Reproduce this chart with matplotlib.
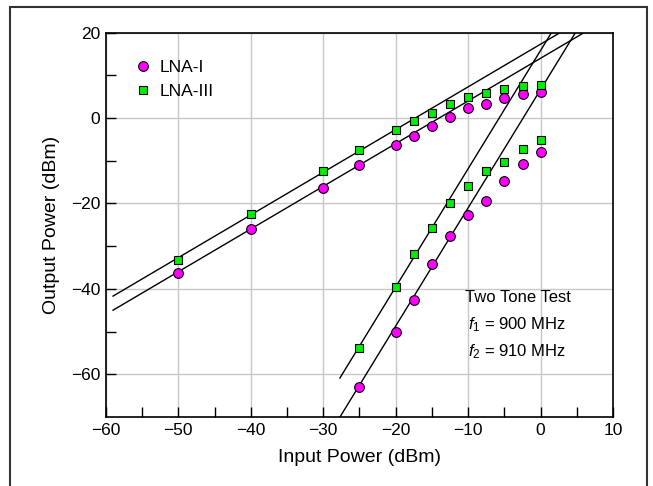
import numpy as np
import matplotlib
matplotlib.use("Agg")
from matplotlib import pyplot as plt
from matplotlib.patches import Rectangle

plt.rcParams['font.family'] = ['Liberation Sans', 'DejaVu Sans']
plt.rcParams['mathtext.fontset'] = 'custom'
plt.rcParams['mathtext.rm'] = 'Liberation Sans'
plt.rcParams['mathtext.it'] = 'Liberation Sans:italic'

# input power (dBm)
pin_fund = [-50, -40, -30, -25, -20, -17.5, -15, -12.5, -10, -7.5, -5, -2.5, 0]
pin_im3 = [-25, -20, -17.5, -15, -12.5, -10, -7.5, -5, -2.5, 0]

# fundamental output
lna1_fund = [-36.2, -26.1, -16.3, -11.1, -6.4, -4.3, -1.9, 0.3, 2.3, 3.3, 4.7, 5.6, 6.2]
lna3_fund = [-33.3, -22.4, -12.5, -7.6, -2.9, -0.8, 1.2, 3.3, 5.0, 5.8, 6.8, 7.5, 7.8]

# third order intermod output
lna1_im3 = [-62.9, -50.2, -42.5, -34.3, -27.6, -22.7, -19.5, -14.8, -10.7, -8.0]
lna3_im3 = [-53.9, -39.5, -31.8, -25.8, -20.0, -15.9, -12.5, -10.3, -7.2, -5.1]

# fitted lines: slope, intercept, start x
fit_slope = [1.0, 1.0, 2.77, 2.77]
fit_icept = [14.0, 17.3, 6.7, 15.85]
fit_start = [-59.0, -59.0, -27.7, -27.7]

fig = plt.figure(figsize=(6.53, 4.86), dpi=100)
ax = fig.add_axes([0.162, 0.142, 0.777, 0.791])

for m, c, x0 in zip(fit_slope, fit_icept, fit_start):
    xs = np.array([x0, (21 - c) / m])
    ax.plot(xs, m * xs + c, color='black', lw=1.0, zorder=3)

ax.plot(pin_fund, lna1_fund, 'o', ms=7, mfc='#ff00ff', mec='black', mew=0.8, zorder=4, label='LNA-I')
ax.plot(pin_fund, lna3_fund, 's', ms=6, mfc='#00ee00', mec='black', mew=0.8, zorder=4, label='LNA-III')
ax.plot(pin_im3, lna1_im3, 'o', ms=7, mfc='#ff00ff', mec='black', mew=0.8, zorder=4)
ax.plot(pin_im3, lna3_im3, 's', ms=6, mfc='#00ee00', mec='black', mew=0.8, zorder=4)

ax.set_xlim(-60, 10)
ax.set_ylim(-70, 20)
ax.set_xticks(range(-60, 11, 10))
ax.set_xticks(range(-55, 10, 10), minor=True)
ax.set_yticks(range(-60, 21, 20))
ax.set_yticks(range(-50, 20, 20), minor=True)
ax.grid(True, which='major', color='#c8c8c8', lw=1.0)
ax.set_axisbelow(True)
ax.tick_params(which='both', direction='in', length=7, width=1, labelsize=12.5, pad=4,
               top=False, right=False)
for s in ax.spines.values():
    s.set_linewidth(1.2)

ax.set_xlabel('Input Power (dBm)', fontsize=14, labelpad=8)
ax.set_ylabel('Output Power (dBm)', fontsize=14, labelpad=8)

ax.legend(loc='upper left', frameon=False, fontsize=12.5, handletextpad=0.35,
          borderaxespad=1.15, labelspacing=0.55, handlelength=1.2)

ax.text(-3.2, -42, 'Two Tone Test', ha='center', va='center', fontsize=12)
ax.text(-3.2, -48.4, r'$f_1$ = 900 MHz', ha='center', va='center', fontsize=12)
ax.text(-3.2, -54.6, r'$f_2$ = 910 MHz', ha='center', va='center', fontsize=12)

fig.patches.append(Rectangle((10 / 653, -0.05), 637 / 653, 1.05 - 7 / 486,
                             transform=fig.transFigure, fill=False,
                             ec='#333333', lw=1.5))

fig.savefig('out.png', dpi=100)
